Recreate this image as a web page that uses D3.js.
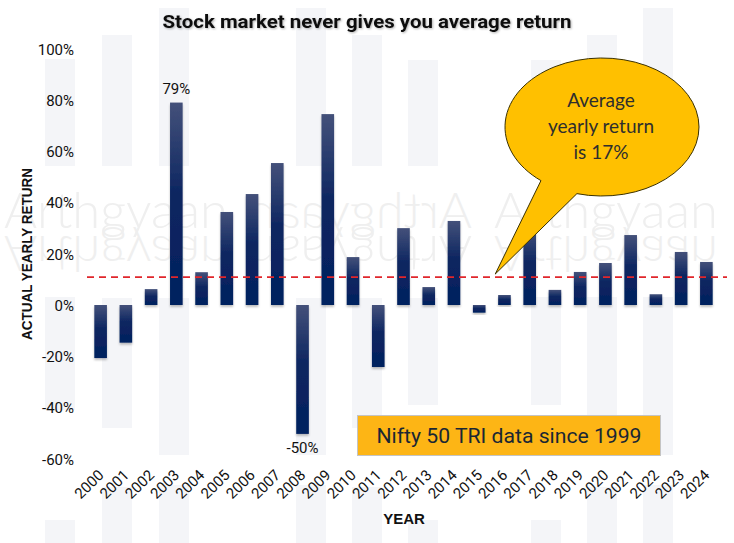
<!DOCTYPE html>
<html>
<head>
<meta charset="utf-8">
<script src="https://cdn.jsdelivr.net/npm/d3@7"></script>
<style>
  html, body { margin: 0; padding: 0; background: #fff; }
  svg { display: block; }
</style>
</head>
<body>
<svg id="chart" width="734" height="543"></svg>
<script>
// ---- data ----
const years = ["2000","2001","2002","2003","2004","2005","2006","2007","2008","2009","2010","2011","2012",
               "2013","2014","2015","2016","2017","2018","2019","2020","2021","2022","2023","2024"];
const returns = [-20.7, -14.7, 6.2, 79, 12.8, 36.3, 43.3, 55.4, -50.3, 74.5, 18.7, -24.2, 30.0,
                 7.0, 32.8, -3.0, 3.9, 30.0, 5.9, 12.9, 16.4, 27.3, 4.2, 20.7, 16.8];
const yTicks = [-60, -40, -20, 0, 20, 40, 60, 80, 100];
const averageLine = 10.9;
const labelledYears = ["2003", "2008"];
const labelTexts = ["79%", "-50%"];
const titleText = "Stock market never gives you average return";
const yTitle = "ACTUAL YEARLY RETURN";
const xTitle = "YEAR";
const calloutLines = ["Average", "yearly return", "is 17%"];
const boxText = "Nifty 50 TRI data since 1999";
const watermark = "Arthgyaan";

const svg = d3.select("#chart");
const W = 734, H = 543;

// ---- decorative background stripes (template texture) ----
const stripeCols = [
  {x: 45,  segs: [[59,166],[297,410],[520,543]]},
  {x: 102, segs: [[35,166],[298,428],[487,543]]},
  {x: 159, segs: [[8,166],[298,455],[485,543]]},
  {x: 296, segs: [[8,166],[298,455],[485,543]]},
  {x: 352, segs: [[35,166],[298,428],[487,543]]},
  {x: 408, segs: [[60,166],[298,405],[520,543]]},
  {x: 531, segs: [[60,166],[297,405],[520,543]]},
  {x: 587, segs: [[35,166],[297,428],[487,543]]},
  {x: 643, segs: [[8,166],[297,455],[485,543]]}
];
const bg = svg.append("g");
stripeCols.forEach(c => c.segs.forEach(s => {
  bg.append("rect").attr("x", c.x).attr("y", s[0]).attr("width", 30).attr("height", s[1]-s[0])
    .attr("fill", "#f4f5f8");
}));

// ---- watermark ----
const wm = svg.append("g").attr("fill", "#efefef")
  .style("font-family", "Lato, 'Open Sans', sans-serif").style("font-weight", 300).style("font-size", "50px");
const wmRow = [{x: 4, flip: false}, {x: 248, flip: true}, {x: 494, flip: false}];
wmRow.forEach(w => {
  wm.append("text").attr("transform", `translate(${w.flip ? w.x + 224 : w.x},228) scale(${w.flip ? -1 : 1},1)`)
    .attr("textLength", 224).attr("lengthAdjust", "spacingAndGlyphs").text(watermark);
  wm.append("text").attr("transform", `translate(${w.flip ? w.x + 224 : w.x},236) scale(${w.flip ? -1 : 1},-1)`)
    .attr("textLength", 224).attr("lengthAdjust", "spacingAndGlyphs").text(watermark);
});

// ---- scales ----
const x = d3.scaleBand().domain(years).range([88, 719]).paddingInner(0.5).paddingOuter(0.25);
const y = d3.scaleLinear().domain([-60, 100]).range([458.75, 48.75]);

// ---- defs ----
const defs = svg.append("defs");
const grad = defs.append("linearGradient").attr("id", "barGrad")
  .attr("x1", 0).attr("y1", 0).attr("x2", 0).attr("y2", 1);
grad.append("stop").attr("offset", "0%").attr("stop-color", "#44517a");
grad.append("stop").attr("offset", "45%").attr("stop-color", "#0d2661");
grad.append("stop").attr("offset", "100%").attr("stop-color", "#02205e");
const sh = defs.append("filter").attr("id", "barShadow").attr("x", "-50%").attr("y", "-10%").attr("width", "200%").attr("height", "130%");
sh.append("feDropShadow").attr("dx", 0).attr("dy", 2).attr("stdDeviation", 1.2).attr("flood-color", "#000").attr("flood-opacity", 0.25);
const tsh = defs.append("filter").attr("id", "textShadow").attr("x", "-5%").attr("y", "-30%").attr("width", "110%").attr("height", "160%");
tsh.append("feDropShadow").attr("dx", 1).attr("dy", 1).attr("stdDeviation", 0.8).attr("flood-color", "#000").attr("flood-opacity", 0.3);

// ---- y axis (labels only) ----
const yAxis = d3.axisLeft(y).tickValues(yTicks).tickFormat(d => d + "%").tickSize(0).tickPadding(0);
const yg = svg.append("g").attr("transform", "translate(74,0)").call(yAxis);
yg.select(".domain").remove();
yg.selectAll("text").attr("fill", "#111")
  .style("font-family", "'Liberation Sans Narrow', 'Roboto', sans-serif").style("font-size", "15px")
  .attr("dy", "0.35em");

// ---- x axis (rotated labels) ----
const xAxis = d3.axisBottom(x).tickSize(0).tickPadding(0);
const xg = svg.append("g").attr("transform", "translate(0,476)").call(xAxis);
xg.select(".domain").remove();
xg.selectAll("text").attr("fill", "#111")
  .style("font-family", "'Liberation Sans Narrow', 'Roboto', sans-serif").style("font-size", "15px")
  .attr("text-anchor", "end").attr("dy", 0).attr("y", 0).attr("x", 0)
  .attr("transform", "translate(4,0) rotate(-45)");

// ---- bars ----
svg.append("g").selectAll("rect").data(years).join("rect")
  .attr("x", d => x(d))
  .attr("width", x.bandwidth())
  .attr("y", (d, i) => y(Math.max(0, returns[i])))
  .attr("height", (d, i) => Math.abs(y(returns[i]) - y(0)))
  .attr("fill", "url(#barGrad)")
  .attr("filter", "url(#barShadow)");

// ---- data labels ----
labelledYears.forEach((yr, k) => {
  const v = returns[years.indexOf(yr)];
  svg.append("text")
    .attr("x", x(yr) + x.bandwidth() / 2)
    .attr("y", v >= 0 ? y(v) - 9 : y(v) + 19)
    .attr("text-anchor", "middle")
    .style("font-family", "'Liberation Sans Narrow', 'Roboto', sans-serif").style("font-size", "15px")
    .attr("fill", "#111").text(labelTexts[k]);
});

// ---- average line ----
svg.append("line").attr("x1", 87).attr("x2", 727).attr("y1", y(averageLine)).attr("y2", y(averageLine))
  .attr("stroke", "#e0262b").attr("stroke-width", 1.8).attr("stroke-dasharray", "7,5");

// ---- title ----
svg.append("text").attr("x", 367).attr("y", 28).attr("text-anchor", "middle")
  .style("font-family", "Roboto, sans-serif").style("font-weight", 700).style("font-size", "19px")
  .attr("textLength", 409).attr("lengthAdjust", "spacingAndGlyphs")
  .attr("fill", "#111").attr("filter", "url(#textShadow)").text(titleText);

// ---- axis titles ----
svg.append("text").attr("transform", "translate(32,254) rotate(-90)").attr("text-anchor", "middle")
  .style("font-family", "'Liberation Sans', Arial, sans-serif").style("font-weight", 700).style("font-size", "14px")
  .attr("textLength", 172).attr("lengthAdjust", "spacingAndGlyphs")
  .attr("fill", "#111").text(yTitle);
svg.append("text").attr("x", 404).attr("y", 524).attr("text-anchor", "middle")
  .style("font-family", "'Liberation Sans Narrow', 'Liberation Sans', sans-serif").style("font-weight", 700).style("font-size", "15px")
  .attr("fill", "#111").text(xTitle);

// ---- callout bubble ----
const cx = 602, cy = 127, rx = 97, ry = 69;
const a1 = 129 * Math.PI / 180, a2 = 105 * Math.PI / 180;
const p1 = [cx + rx * Math.cos(a1), cy + ry * Math.sin(a1)];
const p2 = [cx + rx * Math.cos(a2), cy + ry * Math.sin(a2)];
const tip = [x("2015") + x.bandwidth() / 2 + 16, y(averageLine) - 3];
svg.append("path")
  .attr("d", `M${p1[0]},${p1[1]} L${tip[0]},${tip[1]} L${p2[0]},${p2[1]} A${rx},${ry} 0 1 0 ${p1[0]},${p1[1]} Z`)
  .attr("fill", "#ffc000").attr("stroke", "#3b3100").attr("stroke-width", 1);
calloutLines.forEach((t, i) => {
  svg.append("text").attr("x", 601).attr("y", 107 + i * 26).attr("text-anchor", "middle")
    .style("font-family", "Lato, 'Open Sans', sans-serif").style("font-size", "19px")
    .attr("fill", "#2e2e2e").text(t);
});

// ---- info box ----
svg.append("rect").attr("x", 357.5).attr("y", 415.5).attr("width", 303).attr("height", 40)
  .attr("fill", "#fdb515").attr("stroke", "#c4c4c4").attr("stroke-width", 1);
svg.append("text").attr("x", 509).attr("y", 443).attr("text-anchor", "middle")
  .style("font-family", "Roboto, sans-serif").style("font-size", "21px")
  .attr("textLength", 265).attr("lengthAdjust", "spacingAndGlyphs")
  .attr("fill", "#1a2733").text(boxText);
</script>
</body>
</html>
